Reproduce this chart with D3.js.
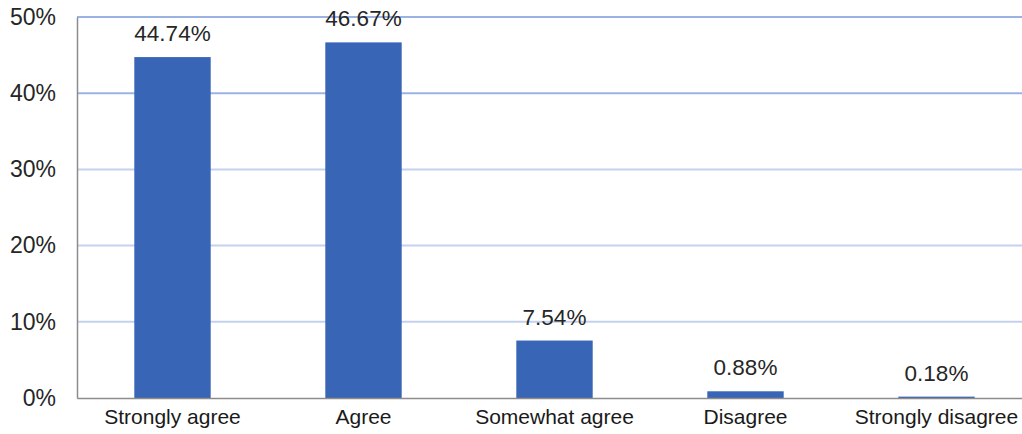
<!DOCTYPE html>
<html>
<head>
<meta charset="utf-8">
<script src="https://cdn.jsdelivr.net/npm/d3@7"></script>
<style>
  body { margin: 0; background: #fff; }
  text { font-family: "Liberation Sans", Arial, sans-serif; }
</style>
</head>
<body>
<div id="chart"></div>
<script>
const categories = ["Strongly agree", "Agree", "Somewhat agree", "Disagree", "Strongly disagree"];
const values = [44.74, 46.67, 7.54, 0.88, 0.18];
const yTicks = [0, 10, 20, 30, 40, 50];

const W = 1022, H = 434;
const plotLeft = 77, plotTop = 17, plotBottom = 398, plotRight = 1032;

const svg = d3.select("#chart").append("svg")
    .attr("width", W)
    .attr("height", H);

const x = d3.scaleBand()
    .domain(categories)
    .range([plotLeft, plotRight])
    .paddingInner(0.6)
    .paddingOuter(0.3);

const y = d3.scaleLinear()
    .domain([0, 50])
    .range([plotBottom, plotTop]);

// gridlines
svg.append("g")
    .selectAll("line")
    .data(yTicks.filter(d => d > 0))
    .join("line")
    .attr("x1", plotLeft)
    .attr("x2", W)
    .attr("y1", d => y(d))
    .attr("y2", d => y(d))
    .attr("stroke", d => d >= 40 ? "#9bb3e2" : "#c3d1ef")
    .attr("stroke-width", 2);

// bars
svg.append("g")
    .selectAll("rect")
    .data(values)
    .join("rect")
    .attr("x", (d, i) => x(categories[i]))
    .attr("y", d => y(d))
    .attr("width", x.bandwidth())
    .attr("height", d => plotBottom - y(d))
    .attr("fill", "#3865b6");

// value labels
svg.append("g")
    .selectAll("text")
    .data(values)
    .join("text")
    .attr("x", (d, i) => x(categories[i]) + x.bandwidth() / 2)
    .attr("y", d => y(d) - 16)
    .attr("text-anchor", "middle")
    .attr("font-size", 22.5)
    .attr("fill", "#262626")
    .text(d => d.toFixed(2) + "%");

// y axis
const yAxis = d3.axisLeft(y)
    .tickValues(yTicks)
    .tickSize(0)
    .tickPadding(21)
    .tickFormat(d => d + "%");

const gy = svg.append("g")
    .attr("transform", `translate(${plotLeft},0)`)
    .call(yAxis);
gy.select(".domain").attr("stroke", "#8c8c8c").attr("stroke-width", 1.5);
gy.selectAll("text").attr("font-size", 23).attr("fill", "#262626");

// x axis
const xAxis = d3.axisBottom(x).tickSize(0).tickPadding(11);
const gx = svg.append("g")
    .attr("transform", `translate(0,${plotBottom})`)
    .call(xAxis);
gx.select(".domain").attr("stroke", "#8c8c8c").attr("stroke-width", 1.5);
gx.selectAll("text").attr("font-size", 21).attr("fill", "#1a1a1a");
</script>
</body>
</html>
